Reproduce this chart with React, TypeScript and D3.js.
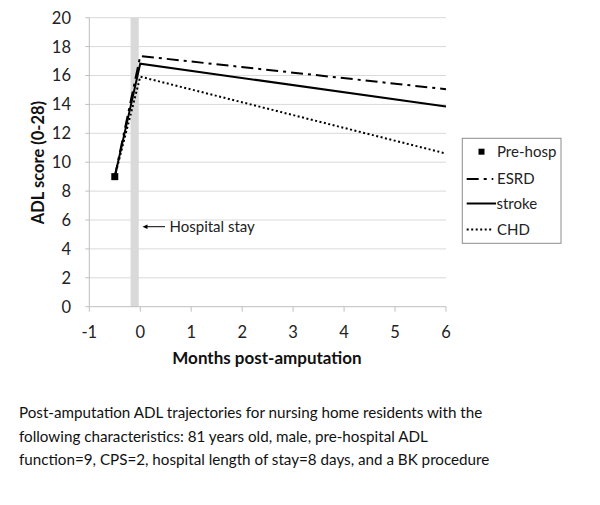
import React from "react";
import * as d3 from "d3";

const xTicks = [-1, 0, 1, 2, 3, 4, 5, 6];
const yTicks = [0, 2, 4, 6, 8, 10, 12, 14, 16, 18, 20];
const preHosp = { month: -0.5, adl: 9 };
const hospitalStay = [-0.19, -0.03];
const seriesNames = ["ESRD", "stroke", "CHD"];
const seriesMonths = [-0.5, 0, 6];
const esrdValues = [9, 17.35, 15.05];
const strokeValues = [9, 16.82, 13.85];
const chdValues = [9, 15.92, 10.6];
const captionLines = [
  "Post-amputation ADL trajectories for nursing home residents with the",
  "following characteristics: 81 years old, male, pre-hospital ADL",
  "function=9, CPS=2, hospital length of stay=8 days, and a BK procedure",
];

const FONT = "Lato, 'Open Sans', sans-serif";

export default function App() {
  const W = 600, H = 505;
  const x = d3.scaleLinear().domain([-1, 6]).range([89.3, 446]);
  const y = d3.scaleLinear().domain([0, 20]).range([306.7, 17.7]);
  const line = d3.line<[number, number]>().x(d => x(d[0])).y(d => y(d[1]));
  const allValues = [esrdValues, strokeValues, chdValues];
  const dashes = ["12,5,3,5", "none", "2,2.5"];
  const widths = [2, 2, 2];
  const data = allValues.map(vals => seriesMonths.map((m, i) => [m, vals[i]] as [number, number]));
  const legendY = [151.7, 179, 203.5, 229.5];
  return (
    <svg width={W} height={H} style={{ position: "absolute", left: 0, top: 0, background: "#fff" }} fontFamily={FONT}>
      {yTicks.filter(t => t > 0).map(t => (
        <line key={t} x1={x(-1)} x2={x(6)} y1={y(t)} y2={y(t)} stroke="#d9d9d9" strokeWidth={1} />
      ))}
      <rect x={x(hospitalStay[0])} width={x(hospitalStay[1]) - x(hospitalStay[0])} y={y(20)} height={y(0) - y(20)} fill="#d9d9d9" />
      <line x1={x(-1)} x2={x(-1)} y1={y(20)} y2={y(0)} stroke="#bfbfbf" />
      <line x1={x(-1)} x2={x(6)} y1={y(0)} y2={y(0)} stroke="#bfbfbf" />
      {yTicks.map(t => (
        <g key={t}>
          <line x1={x(-1) - 4} x2={x(-1)} y1={y(t)} y2={y(t)} stroke="#bfbfbf" />
          <text x={71} y={y(t)} dy="0.36em" textAnchor="end" fontSize={16.5} fill="#222">{t}</text>
        </g>
      ))}
      {xTicks.map(t => (
        <g key={t}>
          <line x1={x(t)} x2={x(t)} y1={y(0)} y2={y(0) + 5} stroke="#bfbfbf" />
          <text x={x(t)} y={337.5} textAnchor="middle" fontSize={16.5} fill="#222">{t}</text>
        </g>
      ))}
      <text transform="translate(44,162.5) rotate(-90)" textAnchor="middle" fontSize={16.5} fontWeight="bold" fill="#111">ADL score (0-28)</text>
      <text x={267} y={364} textAnchor="middle" fontSize={17} fontWeight="bold" fill="#111">Months post-amputation</text>
      {data.map((d, i) => (
        <path key={seriesNames[i]} d={line(d) || ""} fill="none" stroke="#000" strokeWidth={widths[i]} strokeDasharray={dashes[i]} />
      ))}
      <rect x={x(preHosp.month) - 3.5} y={y(preHosp.adl) - 3.5} width={7} height={7} fill="#000" />
      <line x1={146} x2={165} y1={226.7} y2={226.7} stroke="#000" strokeWidth={1} />
      <path d="M142.5,226.7 L147.5,224.5 L147.5,228.9 Z" fill="#000" />
      <text x={169.5} y={226.7} dy="0.36em" fontSize={15} fill="#222">Hospital stay</text>
      <rect x={462.3} y={138.3} width={98.7} height={105} fill="#fff" stroke="#8c8c8c" strokeWidth={1} />
      <rect x={478.5} y={legendY[0] - 3} width={6} height={6} fill="#000" />
      <text x={497} y={legendY[0]} dy="0.36em" fontSize={15} fill="#222">Pre-hosp</text>
      {seriesNames.map((n, i) => (
        <g key={n}>
          <line x1={466.7} x2={i === 1 ? 496 : 493.3} y1={legendY[i + 1]} y2={legendY[i + 1]} stroke="#000" strokeWidth={2} strokeDasharray={dashes[i]} />
          <text x={i === 1 ? 496.5 : 497} y={legendY[i + 1]} dy="0.36em" fontSize={15} fill="#222">{n}</text>
        </g>
      ))}
      {captionLines.map((l, i) => (
        <text key={i} x={19} y={418 + i * 23.5} fontSize={15.2} fill="#111">{l}</text>
      ))}
    </svg>
  );
}
